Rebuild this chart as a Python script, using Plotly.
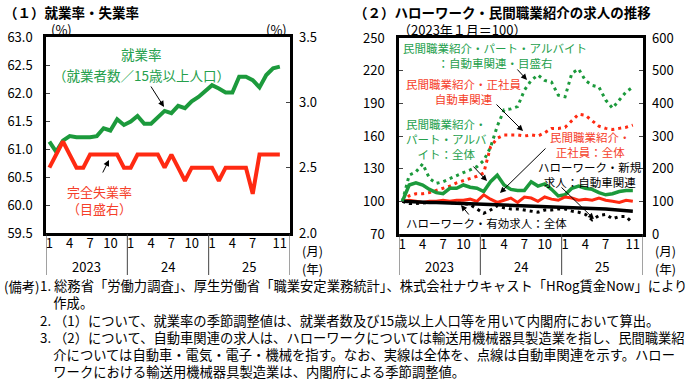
import plotly.graph_objects as go

W, H = 696, 381
FONT = "Noto Sans CJK JP"

# months: 2023-01 .. 2025-11 (index 0..34)
months = list(range(35))
tick_idx = [0, 3, 6, 9, 12, 15, 18, 21, 24, 27, 30, 34]
tick_text = ["1", "4", "7", "10", "1", "4", "7", "10", "1", "4", "7", "11"]
years = ["2023", "24", "25"]
year_centers = [5.5, 17.5, 29.5]
year_bounds = [-0.5, 11.5, 23.5, 35.5]

# (1) employment rate (%), unemployment rate (%, right axis)
employment_rate = [61.13, 60.95, 61.15, 61.23, 61.21, 61.21, 61.21, 61.23, 61.37, 61.33,
                   61.53, 61.43, 61.49, 61.59, 61.45, 61.45, 61.57, 61.68, 61.64, 61.77,
                   61.73, 61.85, 61.93, 62.04, 62.14, 62.08, 62.01, 62.01, 62.29, 62.29,
                   62.23, 62.10, 62.32, 62.44, 62.47]
unemployment_rate = [2.5, 2.6, 2.7, 2.6, 2.5, 2.5, 2.6, 2.6, 2.6, 2.6,
                     2.6, 2.5, 2.5, 2.6, 2.6, 2.6, 2.6, 2.5, 2.6, 2.5,
                     2.4, 2.5, 2.5, 2.5, 2.5, 2.4, 2.5, 2.5, 2.5, 2.5,
                     2.3, 2.6, 2.6, 2.6, 2.6]

# (2) job offers, 2023-01 = 100
hw_total = [100, 99.6, 99.4, 99.2, 99.0, 98.9, 98.7, 98.5, 98.3, 98.1,
            97.9, 97.6, 97.4, 97.1, 96.8, 96.6, 96.4, 96.2, 96.1, 95.9,
            95.7, 95.5, 95.3, 95.1, 94.9, 94.7, 94.4, 94.1, 93.7, 93.3,
            92.9, 92.4, 91.9, 91.3, 90.8]
hw_auto = [100, 98, 98, 98.5, 99, 99.5, 99, 99, 98.5, 98,
           97, 93, 89, 92, 96, 94, 93, 93, 92, 91,
           90, 92, 92, 93, 93, 91, 90, 88, 83, 87,
           88, 84, 86, 86, 80]
seishain_total = [100, 101, 100, 99, 100, 100, 101, 100, 101, 101,
                  102, 100, 106, 102, 99, 101, 103, 99, 104, 103,
                  100, 104, 102, 101, 104, 103, 101, 102, 101, 103,
                  101, 100, 99, 101, 100]
seishain_auto = [100, 105, 107, 107, 108, 110, 112, 114, 117, 119,
                 121, 123, 126, 150, 158, 161, 161, 161, 160, 161,
                 160, 163, 167, 167, 168, 174, 180, 179, 174, 169,
                 167, 166, 167, 168, 170]
part_total = [100, 115, 117, 115, 111, 108, 107, 112, 112, 115,
              113, 112, 109, 118, 124, 115, 111, 110, 110, 118,
              114, 116, 111, 105, 106, 112, 114, 112, 111, 108,
              106, 107, 109, 110, 110]
part_auto = [100, 180, 190, 215, 170, 155, 160, 170, 178, 188,
             196, 206, 225, 265, 330, 380, 383, 390, 440, 470,
             487, 470, 465, 425, 420, 492, 505, 470, 455, 450,
             410, 385, 410, 435, 450]

GREEN = "#1c9a3c"
RED = "#ff2a12"
GREEN_T = "#25a04c"
RED_T = "#f5402a"


def px(x):
    return x / W


def py(y):
    return 1 - y / H


fig = go.Figure()

# left chart
fig.add_trace(go.Scatter(x=months, y=unemployment_rate, xaxis="x", yaxis="y2",
                         mode="lines", line=dict(color=RED, width=4)))
fig.add_trace(go.Scatter(x=months, y=employment_rate, xaxis="x", yaxis="y",
                         mode="lines", line=dict(color=GREEN, width=4)))

# right chart
dots = "3px,4px"
fig.add_trace(go.Scatter(x=months, y=part_auto, xaxis="x2", yaxis="y4", mode="lines",
                         line=dict(color=GREEN, width=3, dash=dots)))
fig.add_trace(go.Scatter(x=months, y=seishain_auto, xaxis="x2", yaxis="y3", mode="lines",
                         line=dict(color=RED, width=3, dash=dots)))
fig.add_trace(go.Scatter(x=months, y=hw_auto, xaxis="x2", yaxis="y3", mode="lines",
                         line=dict(color="black", width=3, dash=dots)))
fig.add_trace(go.Scatter(x=months, y=part_total, xaxis="x2", yaxis="y3", mode="lines",
                         line=dict(color=GREEN, width=3.5)))
fig.add_trace(go.Scatter(x=months, y=seishain_total, xaxis="x2", yaxis="y3", mode="lines",
                         line=dict(color=RED, width=3)))
fig.add_trace(go.Scatter(x=months, y=hw_total, xaxis="x2", yaxis="y3", mode="lines",
                         line=dict(color="black", width=3.5)))

tickfont = dict(family=FONT, size=13, color="black")
xcommon = dict(range=[-0.5, 35.5], tickvals=tick_idx, ticktext=tick_text, ticks="",
               showline=True, linewidth=2.5, linecolor="black", mirror=True,
               showgrid=False, zeroline=False, tickfont=tickfont, ticklabelstandoff=-3,
               automargin=False, fixedrange=True)
ycommon = dict(showgrid=False, zeroline=False, ticks="inside", ticklen=4, tickwidth=1,
               tickfont=tickfont, automargin=False, fixedrange=True)

fig.update_layout(
    width=W, height=H,
    margin=dict(l=0, r=0, t=0, b=0, pad=0),
    paper_bgcolor="white", plot_bgcolor="white",
    showlegend=False,
    font=dict(family=FONT, color="black"),
    xaxis=dict(domain=[px(46), px(290)], anchor="y", **xcommon),
    yaxis=dict(domain=[py(233), py(37)], anchor="x", range=[59.5, 63.0],
               tick0=59.5, dtick=0.5, tickformat=".1f", showline=True, linewidth=2.5,
               linecolor="black", mirror=True, ticklabelstandoff=8, **ycommon),
    yaxis2=dict(overlaying="y", side="right", anchor="x", range=[2.0, 3.5],
                tick0=2.0, dtick=0.5, tickformat=".1f", showline=False,
                ticklabelstandoff=8, **ycommon),
    xaxis2=dict(domain=[px(399), px(643)], anchor="y3", **xcommon),
    yaxis3=dict(domain=[py(234), py(38)], anchor="x2", range=[70, 250], tick0=70,
                dtick=30, showline=True, linewidth=2.5, linecolor="black", mirror=True,
                ticklabelstandoff=9, **ycommon),
    yaxis4=dict(overlaying="y3", side="right", anchor="x2", range=[0, 600], tick0=0,
                dtick=100, showline=False, ticklabelstandoff=8, **ycommon),
)

shapes = []
for xr in ["x", "x2"]:
    for b in year_bounds:
        shapes.append(dict(type="line", xref=xr, yref="paper", x0=b, x1=b,
                           y0=py(275), y1=py(234), line=dict(color="#444", width=1)))
fig.update_layout(shapes=shapes)

ann = []


def text(t, x, y, color="black", size=12, xanchor="center", bold=False, align="center"):
    if bold:
        t = "<b>" + t + "</b>"
    ann.append(dict(text=t, x=px(x), y=py(y), xref="paper", yref="paper",
                    showarrow=False, xanchor=xanchor, yanchor="middle", align=align,
                    font=dict(family=FONT, size=size, color=color)))


def arrow(x0, y0, x1, y1):
    ann.append(dict(text="", x=px(x1), y=py(y1), xref="paper", yref="paper",
                    ax=x0 - x1, ay=y0 - y1, showarrow=True, arrowhead=2,
                    arrowsize=1.2, arrowwidth=1, arrowcolor="black"))


for xr in ["x", "x2"]:
    for yr, c in zip(years, year_centers):
        ann.append(dict(text=yr, x=c, y=py(266), xref=xr, yref="paper", showarrow=False,
                        yanchor="middle", font=dict(family=FONT, size=13, color="black")))

# titles
text("（１）就業率・失業率", 2, 12, size=13.5, xanchor="left", bold=True)
text("（２）ハローワーク・民間職業紹介の求人の推移", 352, 12, size=13.5, xanchor="left", bold=True)

# left chart labels
text("(%)", 61, 30, size=13)
text("(%)", 276, 30, size=13)
text("(月)", 312, 250, size=12.5)
text("(年)", 312, 268, size=12.5)
text("就業率", 141, 54, color=GREEN_T, size=13.5)
text("（就業者数／15歳以上人口）", 141, 75, color=GREEN_T, size=13.5)
arrow(150, 85, 164, 107)
text("完全失業率<br>（目盛右）", 99, 200, color=RED_T, size=13)
arrow(102, 174, 109, 160)

# right chart labels
text("（2023年１月＝100）", 396, 30, size=13, xanchor="left")
text("(月)", 665, 250, size=12.5)
text("(年)", 665, 268, size=12.5)
text("民間職業紹介・パート・アルバイト<br>：自動車関連・目盛右", 495, 55, color=GREEN_T, size=11.5)
arrow(516, 68, 527, 80)
text("民間職業紹介・正社員<br>自動車関連", 463, 92, color=RED_T, size=11.5)
arrow(495, 103, 523, 131)
text("民間職業紹介・<br>パート・アルバ<br>イト：全体", 446, 139, color=GREEN_T, size=11.5)
arrow(472, 165, 487, 181)
text("民間職業紹介・<br>正社員：全体", 590, 144, color=RED_T, size=11.5)
arrow(547, 147, 500, 193)
text("ハローワーク・新規<br>求人：自動車関連", 590, 174, size=11.5)
arrow(560, 186, 594, 219)
text("ハローワーク・有効求人：全体", 486, 223, size=11.5)
arrow(470, 216, 461, 205)

# notes
IS = "\u3000"
text("(備考)", 2, 286, size=13.3, xanchor="left")
notes = "<br>".join([
    "1. 総務省「労働力調査」、厚生労働省「職業安定業務統計」、株式会社ナウキャスト「HRog賃金Now」により",
    IS + "作成。",
    "2. （1）について、就業率の季節調整値は、就業者数及び15歳以上人口等を用いて内閣府において算出。",
    "3. （2）について、自動車関連の求人は、ハローワークについては輸送用機械器具製造業を指し、民間職業紹",
    IS + "介については自動車・電気・電子・機械を指す。なお、実線は全体を、点線は自動車関連を示す。ハロー",
    IS + "ワークにおける輸送用機械器具製造業は、内閣府による季節調整値。",
])
ann.append(dict(text=notes, x=px(38), y=py(328), xref="paper", yref="paper",
                showarrow=False, xanchor="left", yanchor="middle", align="left",
                font=dict(family=FONT, size=13.3, color="black")))

fig.update_layout(annotations=ann)
fig.write_html("out.html", config={"displayModeBar": False},
               post_script="document.body.style.margin='0';")
